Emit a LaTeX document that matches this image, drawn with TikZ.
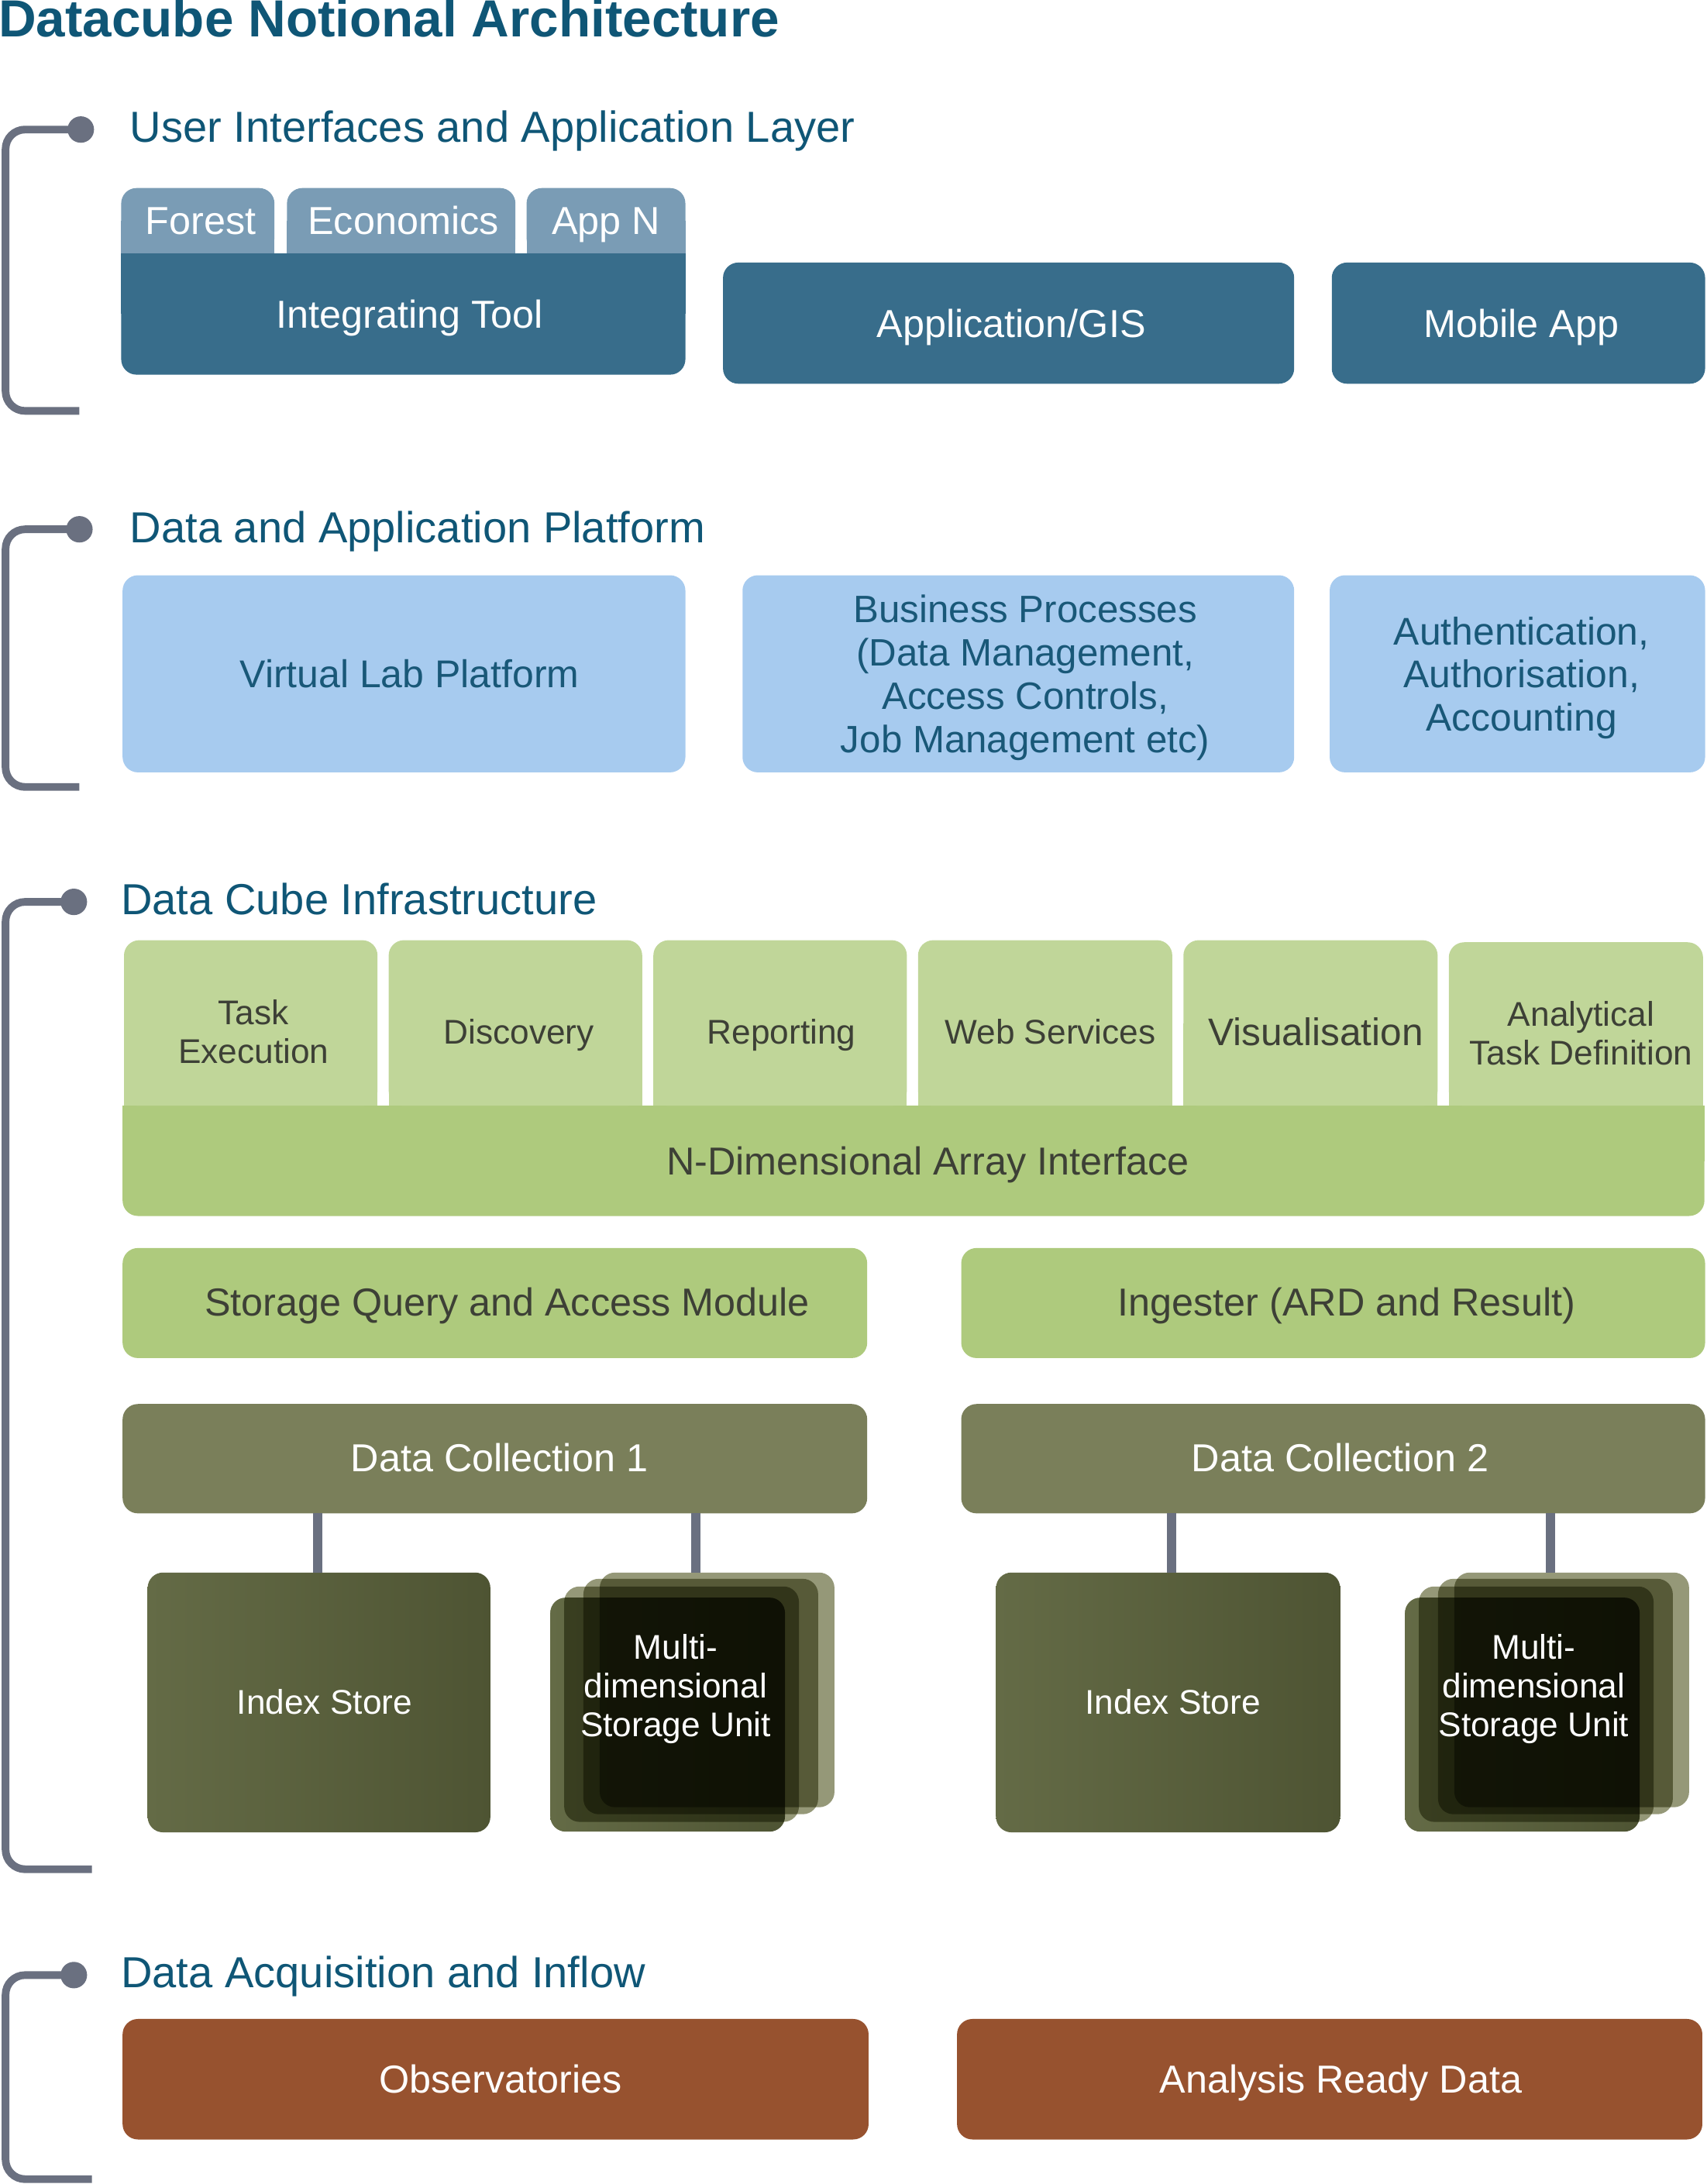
\documentclass[tikz,border=0pt]{standalone}
\usepackage{fontspec}
\setmainfont{Liberation Sans}
\usepackage{tikz}
\pgfdeclarelayer{bg}
\pgfsetlayers{bg,main}
\definecolor{titleblue}{HTML}{0F5676}
\definecolor{bracketgray}{HTML}{6A7080}
\definecolor{darkblue}{HTML}{386D8B}
\definecolor{tabblue}{HTML}{7A9CB5}
\definecolor{lightblue}{HTML}{A7CBEF}
\definecolor{textblue}{HTML}{195878}
\definecolor{tabgreen}{HTML}{C0D699}
\definecolor{midgreen}{HTML}{AECA7D}
\definecolor{greentext}{HTML}{3D4036}
\definecolor{olivebox}{HTML}{7A7F5A}
\definecolor{idxl}{HTML}{646B46}
\definecolor{idxr}{HTML}{4E5433}
\definecolor{brownbox}{HTML}{97522F}
\definecolor{stacklight}{HTML}{959878}
\newcommand\mkbox[6]{\node[#2, minimum width={#5-#3}, minimum height={#6-#4}] (#1) at ({(#3+#5)/2},{(#4+#6)/2}) {};}
\tikzset{
  rbox/.style={rectangle, rounded corners=11pt, inner sep=0pt, outer sep=0pt, draw=none},
  stk/.style={rbox, rounded corners=11pt, fill=stacklight},
  stkf/.style={rbox, rounded corners=11pt, left color=idxl, right color=idxr},
  dotnode/.style={circle, fill=bracketgray, minimum size=19pt, inner sep=0pt},
  bracket/.style={draw=bracketgray, line width=5.5pt, rounded corners=14pt, line cap=butt},
  conn/.style={draw=bracketgray, line width=7pt},
  head/.style={anchor=base west, inner sep=0pt, font=\fontsize{31.2}{36}\selectfont, text=titleblue},
  tA/.style={inner sep=0pt, font=\fontsize{28}{33}\selectfont, text height=20pt, text depth=0pt},
  tB/.style={inner sep=0pt, font=\fontsize{27.8}{31}\selectfont, text height=19.9pt, text depth=0pt},
  tBm/.style={inner sep=0pt, align=center, font=\fontsize{27.4}{31.3}\selectfont, text depth=0pt},
  tAm/.style={inner sep=0pt, align=center, font=\fontsize{27.7}{31}\selectfont, text depth=0pt},
  tC/.style={inner sep=0pt, font=\fontsize{24.6}{28}\selectfont, text height=17.6pt, text depth=0pt},
  tCm/.style={inner sep=0pt, align=center, font=\fontsize{24.6}{28}\selectfont, text depth=0pt},
  tV/.style={inner sep=0pt, font=\fontsize{27.6}{32}\selectfont, text height=19.8pt, text depth=0pt},
}
\begin{document}
\begin{tikzpicture}[x=1pt,y=-1pt]
\useasboundingbox (0,0) rectangle (1225,1568);

% title
\node[anchor=base west, inner sep=0pt, font=\fontsize{37.5}{42}\selectfont\bfseries, text=titleblue] (title) at (-1.2,26.5) {Datacube Notional Architecture};

% ===== Section 1 =====
\node[dotnode] (d1) at (58,93) {};
\coordinate (b1a) at (4,93);
\coordinate (b1b) at (4,295);
\coordinate (b1c) at (57,295);
\draw[bracket] (d1.center) -- (b1a) -- (b1b) -- (b1c);
\node[head] (h1) at (93.2,102) {User Interfaces and Application Layer};

\mkbox{tforest}{rbox,fill=tabblue}{87}{135}{197}{182}
\mkbox{tecon}{rbox,fill=tabblue}{206}{135}{370}{182}
\mkbox{tappn}{rbox,fill=tabblue}{378}{135}{492}{182}
\mkbox{integ}{rbox,fill=darkblue}{87}{182}{492}{269}
\node[tA,text=white] (lforest) at ([xshift=2]tforest.center) {Forest};
\node[tA,text=white] (lecon) at ([xshift=1.5]tecon.center) {Economics};
\node[tA,text=white] (lappn) at (tappn.center) {App N};
\node[tA,text=white] (linteg) at ([xshift=4.5]integ.center) {Integrating Tool};

\mkbox{appgis}{rbox,fill=darkblue}{519}{188.5}{929}{275.5}
\node[tA,text=white] (lappgis) at ([xshift=2]appgis.center) {Application/GIS};
\mkbox{mobile}{rbox,fill=darkblue}{956}{188.5}{1224}{275.5}
\node[tA,text=white] (lmobile) at ([xshift=2]mobile.center) {Mobile App};

% ===== Section 2 =====
\node[dotnode] (d2) at (57,380) {};
\coordinate (b2a) at (4,380);
\coordinate (b2b) at (4,565);
\coordinate (b2c) at (57,565);
\draw[bracket] (d2.center) -- (b2a) -- (b2b) -- (b2c);
\node[head] (h2) at (93.2,389.5) {Data and Application Platform};

\mkbox{vlab}{rbox,fill=lightblue}{88}{413}{492}{554.5}
\node[tB,text=textblue] (lvlab) at ([xshift=4]vlab.center) {Virtual Lab Platform};
\mkbox{bp}{rbox,fill=lightblue}{533}{413}{929}{554.5}
\node[tBm,text=textblue] (lbp) at ([xshift=5]bp.center) {Business Processes\\(Data Management,\\Access Controls,\\Job Management etc)};
\mkbox{auth}{rbox,fill=lightblue}{954.5}{413}{1224}{554.5}
\node[tAm,text=textblue] (lauth) at ([xshift=3]auth.center) {Authentication,\\Authorisation,\\Accounting};

% ===== Section 3 =====
\node[dotnode] (d3) at (53,647.5) {};
\coordinate (b3a) at (4,647.5);
\coordinate (b3b) at (4,1342);
\coordinate (b3c) at (66,1342);
\draw[bracket] (d3.center) -- (b3a) -- (b3b) -- (b3c);
\node[head] (h3) at (86.7,656.5) {Data Cube Infrastructure};

\mkbox{gtask}{rbox,fill=tabgreen}{89}{675}{271}{794}
\mkbox{gdisc}{rbox,fill=tabgreen}{279}{675}{461}{794}
\mkbox{grep}{rbox,fill=tabgreen}{469}{675}{651}{794}
\mkbox{gweb}{rbox,fill=tabgreen}{659}{675}{841.5}{794}
\mkbox{gvis}{rbox,fill=tabgreen}{849.5}{675}{1032}{794}
\mkbox{gana}{rbox,fill=tabgreen}{1040}{676.5}{1222.5}{794}
\mkbox{ndim}{rbox,fill=midgreen}{88}{794}{1223.5}{873}

\node[tCm,text=greentext] (lgtask) at (182,740.7) {Task\\Execution};
\node[tC,text=greentext] (lgdisc) at (372.5,740.5) {Discovery};
\node[tC,text=greentext] (lgrep) at (561,740.5) {Reporting};
\node[tC,text=greentext] (lgweb) at (754,740.5) {Web Services};
\node[tV,text=greentext] (lgvis) at (944.5,740.7) {Visualisation};
\node[tCm,text=greentext] (lgana) at (1135,741.7) {Analytical\\Task Definition};
\node[tA,text=greentext] (lndim) at (666,833.5) {N-Dimensional Array Interface};

\mkbox{sq}{rbox,fill=midgreen}{88}{896}{622.5}{975}
\node[tA,text=greentext] (lsq) at (364,934.5) {Storage Query and Access Module};
\mkbox{ing}{rbox,fill=midgreen}{690}{896}{1224}{975}
\node[tA,text=greentext] (ling) at (966.7,934.5) {Ingester (ARD and Result)};

\mkbox{dc1}{rbox,fill=olivebox}{88}{1008}{622.5}{1086.5}
\node[tA,text=white] (ldc1) at (358.5,1046.7) {Data Collection 1};
\mkbox{dc2}{rbox,fill=olivebox}{690}{1008}{1224}{1086.5}
\node[tA,text=white] (ldc2) at (962,1046.7) {Data Collection 2};

\mkbox{idx1}{rbox,left color=idxl,right color=idxr}{106}{1129}{352}{1315.5}
\node[tC,text=white] (lidx1) at (233,1222) {Index Store};
\mkbox{idx2}{rbox,left color=idxl,right color=idxr}{715}{1129}{962}{1315.5}
\node[tC,text=white] (lidx2) at (842,1222) {Index Store};

\begin{scope}[blend group=multiply]
\mkbox{s1a}{stk}{430.5}{1129}{599}{1297.5}
\mkbox{s1b}{stk}{418.8}{1133.5}{587.3}{1302.5}
\mkbox{s1c}{stk}{405}{1139}{573.5}{1308}
\mkbox{s1d}{stkf}{395}{1147}{563.5}{1315}
\end{scope}
\begin{scope}[blend group=multiply]
\mkbox{s2a}{stk}{1044}{1129}{1212.5}{1297.5}
\mkbox{s2b}{stk}{1032.3}{1133.5}{1200.8}{1302.5}
\mkbox{s2c}{stk}{1018.5}{1139}{1187}{1308}
\mkbox{s2d}{stkf}{1008.5}{1147}{1177}{1315}
\end{scope}
\node[tCm,text=white] (ls1) at (485,1210) {Multi-\\dimensional\\Storage Unit};
\node[tCm,text=white] (ls2) at (1101,1210) {Multi-\\dimensional\\Storage Unit};

\coordinate (c1) at (228,1086.5);
\coordinate (c2) at (499.5,1086.5);
\coordinate (c3) at (841,1086.5);
\coordinate (c4) at (1113,1086.5);
\draw[conn] (c1) -- (c1 |- idx1.north);
\draw[conn] (c2) -- (c2 |- s1a.north);
\draw[conn] (c3) -- (c3 |- idx2.north);
\draw[conn] (c4) -- (c4 |- s2a.north);

% ===== Section 4 =====
\node[dotnode] (d4) at (53,1418) {};
\coordinate (b4a) at (4,1418);
\coordinate (b4b) at (4,1564.5);
\coordinate (b4c) at (66,1564.5);
\draw[bracket] (d4.center) -- (b4a) -- (b4b) -- (b4c);
\node[head] (h4) at (86.7,1427) {Data Acquisition and Inflow};

\mkbox{obs}{rbox,fill=brownbox}{88}{1449.5}{623.5}{1536}
\node[tA,text=white] (lobs) at (359.2,1492.5) {Observatories};
\mkbox{ard}{rbox,fill=brownbox}{687}{1449.5}{1222}{1536}
\node[tA,text=white] (lard) at (962.6,1492.5) {Analysis Ready Data};

% square off the joined corners
\begin{pgfonlayer}{bg}
  \fill[tabblue] (tforest.west) rectangle (tforest.south east);
  \fill[tabblue] (tecon.west) rectangle (tecon.south east);
  \fill[tabblue] (tappn.west) rectangle (tappn.south east);
  \fill[darkblue] (integ.north west) rectangle (integ.east);
  \fill[tabgreen] (gtask.west) rectangle (gtask.south east);
  \fill[tabgreen] (gdisc.west) rectangle (gdisc.south east);
  \fill[tabgreen] (grep.west) rectangle (grep.south east);
  \fill[tabgreen] (gweb.west) rectangle (gweb.south east);
  \fill[tabgreen] (gvis.west) rectangle (gvis.south east);
  \fill[tabgreen] (gana.west) rectangle (gana.south east);
  \fill[midgreen] (ndim.north west) rectangle (ndim.east);
\end{pgfonlayer}
\end{tikzpicture}
\end{document}
